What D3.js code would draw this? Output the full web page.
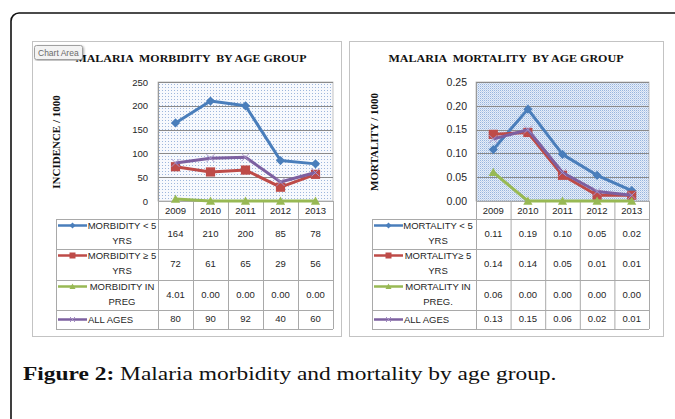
<!DOCTYPE html>
<html>
<head>
<meta charset="utf-8">
<script src="https://cdn.jsdelivr.net/npm/d3@7"></script>
<style>
body { margin: 0; background: #fff; }
svg { display: block; }
</style>
</head>
<body>
<svg id="chart" width="675" height="419"></svg>
<script>
// data
const years = ["2009", "2010", "2011", "2012", "2013"]

const morbNames = [["MORBIDITY < 5", "YRS"], ["MORBIDITY \u2265 5", "YRS"], ["MORBIDITY IN", "PREG"], ["ALL AGES"]]
const morbUnder5 = [164, 210, 200, 85, 78]
const morbOver5 = [72, 61, 65, 29, 56]
const morbPreg = [4.01, 0, 0, 0, 0]
const morbAll = [80, 90, 92, 40, 60]
const morbTicks = [0, 50, 100, 150, 200, 250]

const mortNames = [["MORTALITY < 5", "YRS"], ["MORTALITY\u2265 5", "YRS"], ["MORTALITY IN", "PREG."], ["ALL AGES"]]
const mortUnder5 = [0.108, 0.193, 0.098, 0.054, 0.022]
const mortOver5 = [0.14, 0.144, 0.054, 0.012, 0.012]
const mortPreg = [0.06, 0, 0, 0, 0]
const mortAll = [0.13, 0.15, 0.06, 0.02, 0.012]
const mortTicks = [0, 0.05, 0.10, 0.15, 0.20, 0.25]

const colors = ["#4a7ebb", "#be4b48", "#98b954", "#7d60a0"]
const markers = ["diamond", "square", "triangle", "x"]

const svg = d3.select("#chart")
const defs = svg.append("defs")

// plot area fills
let p1 = defs.append("pattern").attr("id", "dots").attr("width", 3).attr("height", 3)
    .attr("patternUnits", "userSpaceOnUse")
p1.append("rect").attr("width", 3).attr("height", 3).attr("fill", "#f7f9fd")
p1.append("rect").attr("width", 1).attr("height", 1).attr("fill", "#9db6dc")

let p2 = defs.append("pattern").attr("id", "hatch").attr("width", 2).attr("height", 2)
    .attr("patternUnits", "userSpaceOnUse")
p2.append("rect").attr("width", 2).attr("height", 2).attr("fill", "#e6edf8")
p2.append("rect").attr("width", 1).attr("height", 1).attr("fill", "#97b5de")
p2.append("rect").attr("x", 1).attr("y", 1).attr("width", 1).attr("height", 1).attr("fill", "#c4d5ee")

let shadow = defs.append("filter").attr("id", "tipShadow")
shadow.append("feDropShadow").attr("dx", 1).attr("dy", 1).attr("stdDeviation", 0.8)
    .attr("flood-color", "#000").attr("flood-opacity", 0.35)

function markerPath(kind, r) {
    if (kind == "diamond") return `M0,${-r}L${r},0L0,${r}L${-r},0Z`
    if (kind == "square") return `M${-r},${-r}H${r}V${r}H${-r}Z`
    if (kind == "triangle") return `M0,${-r}L${r},${r * 0.8}L${-r},${r * 0.8}Z`
    return `M${-r},${-r}L${r},${r}M${-r},${r}L${r},${-r}`
}

// outer frame
svg.append("rect")
    .attr("x", 11).attr("y", 13).attr("width", 720).attr("height", 460)
    .attr("rx", 8)
    .attr("fill", "none").attr("stroke", "#111").attr("stroke-width", 1.6)

function drawPanel(cfg) {
    let g = svg.append("g")
    g.append("rect")
        .attr("x", cfg.box[0] + 0.5).attr("y", cfg.box[1] + 0.5)
        .attr("width", cfg.box[2]).attr("height", cfg.box[3])
        .attr("fill", "#fff").attr("stroke", "#c3c3c3")

    let x = d3.scaleBand().domain(years).range([cfg.plot[0], cfg.plot[1]])
    let y = d3.scaleLinear().domain([0, d3.max(cfg.ticks)]).range([cfg.plot[3], cfg.plot[2]])
    let cx = d => x(d) + x.bandwidth() / 2

    g.append("rect")
        .attr("x", cfg.plot[0]).attr("y", cfg.plot[2])
        .attr("width", cfg.plot[1] - cfg.plot[0]).attr("height", cfg.plot[3] - cfg.plot[2])
        .attr("fill", `url(#${cfg.fill})`)
        .attr("stroke", "#b4b4b4").attr("stroke-width", 0.8)

    g.append("g").selectAll("line")
        .data(cfg.ticks.slice(1))
        .join("line")
            .attr("x1", cfg.plot[0]).attr("x2", cfg.plot[1])
            .attr("y1", d => Math.round(y(d)) + 0.5).attr("y2", d => Math.round(y(d)) + 0.5)
            .attr("stroke", "#8a8a8a").attr("stroke-width", 1)

    let axis = g.append("g")
        .attr("transform", `translate(${cfg.plot[0]},0)`)
        .call(d3.axisLeft(y).tickValues(cfg.ticks).tickSize(0).tickPadding(cfg.tickPad)
            .tickFormat(cfg.tickFormat))
    axis.select(".domain").attr("stroke", "#9a9a9a")
    axis.selectAll("text")
        .attr("font-family", "Liberation Sans, Arial, sans-serif")
        .attr("font-size", cfg.tickSize)
        .attr("fill", "#262626")

    // titles
    g.append("text")
        .attr("x", cfg.titleX).attr("y", 62)
        .attr("text-anchor", "middle")
        .attr("font-family", "Liberation Serif, Times New Roman, serif")
        .attr("font-weight", "bold").attr("font-size", 11)
        .attr("fill", "#111")
        .attr("textLength", cfg.titleW).attr("lengthAdjust", "spacingAndGlyphs")
        .style("white-space", "pre")
        .text(cfg.title)
    g.append("text")
        .attr("transform", `translate(${cfg.yTitleX},142) rotate(-90)`)
        .attr("text-anchor", "middle").attr("dy", "0.35em")
        .attr("font-family", "Liberation Serif, Times New Roman, serif")
        .attr("font-weight", "bold").attr("font-size", 11)
        .attr("fill", "#111")
        .text(cfg.yTitle)

    // data table
    let rows = [201, 219, 249, 280, 310, 329]
    let tcol = "#a9a9a9"
    let tg = g.append("g")
    tg.selectAll("line.h")
        .data(rows)
        .join("line")
            .attr("x1", (d, i) => i == 0 ? cfg.plot[0] : cfg.tableLeft)
            .attr("x2", cfg.plot[1])
            .attr("y1", d => d + 0.5).attr("y2", d => d + 0.5)
            .attr("stroke", tcol)
    let edges = years.map(d => x(d)).concat([cfg.plot[1]])
    tg.selectAll("line.v")
        .data(edges)
        .join("line")
            .attr("x1", d => d + 0.5).attr("x2", d => d + 0.5)
            .attr("y1", rows[0]).attr("y2", rows[5])
            .attr("stroke", tcol)
    tg.append("line")
        .attr("x1", cfg.tableLeft + 0.5).attr("x2", cfg.tableLeft + 0.5)
        .attr("y1", rows[1]).attr("y2", rows[5])
        .attr("stroke", tcol)

    let font = "Liberation Sans, Arial, sans-serif"
    let fs = 9.5
    tg.selectAll("text.year")
        .data(years)
        .join("text")
            .attr("x", cx).attr("y", 213.5)
            .attr("text-anchor", "middle")
            .attr("font-family", font).attr("font-size", fs).attr("fill", "#262626")
            .text(d => d)

    cfg.series.forEach((vals, i) => {
        let top = rows[i + 1], bot = rows[i + 2]
        let names = cfg.names[i]
        let keyY = names.length > 1 ? top + 6.5 : (top + bot) / 2
        tg.append("line")
            .attr("x1", cfg.tableLeft + 2).attr("x2", cfg.tableLeft + 31)
            .attr("y1", keyY).attr("y2", keyY)
            .attr("stroke", colors[i]).attr("stroke-width", 2.5)
        tg.append("path")
            .attr("transform", `translate(${cfg.tableLeft + 16.5},${keyY})`)
            .attr("d", markerPath(markers[i], markers[i] == "x" ? 2.5 : 3))
            .attr("fill", colors[i])
            .attr("stroke", markers[i] == "x" ? "#a58fc4" : "none")
        if (names.length > 1) {
            names.forEach((n, j) => {
                tg.append("text")
                    .attr("x", cfg.tableLeft + 66).attr("y", top + 6.5 + j * 15)
                    .attr("dy", "0.35em").attr("text-anchor", "middle")
                    .attr("font-family", font).attr("font-size", fs).attr("fill", "#262626")
                    .text(n)
            })
        } else {
            tg.append("text")
                .attr("x", cfg.tableLeft + 32).attr("y", keyY)
                .attr("dy", "0.35em")
                .attr("font-family", font).attr("font-size", fs).attr("fill", "#262626")
                .text(names[0])
        }
        tg.selectAll(null)
            .data(vals)
            .join("text")
                .attr("x", (d, k) => cx(years[k]))
                .attr("y", (top + bot) / 2 - 0.5)
                .attr("dy", "0.35em").attr("text-anchor", "middle")
                .attr("font-family", font).attr("font-size", fs).attr("fill", "#262626")
                .text(d => d3.format(cfg.formats[i])(d))
    })

    // series lines and markers
    let line = d3.line().x((d, k) => cx(years[k])).y(d => y(d))
    cfg.series.forEach((vals, i) => {
        let sg = g.append("g")
        sg.append("path")
            .attr("d", line(vals))
            .attr("fill", "none")
            .attr("stroke", colors[i]).attr("stroke-width", 3)
            .attr("stroke-linejoin", "round")
        sg.selectAll("path.m")
            .data(vals)
            .join("path")
                .attr("transform", (d, k) => `translate(${cx(years[k])},${y(d)})`)
                .attr("d", markerPath(markers[i], markers[i] == "x" ? 4 : 4.6))
                .attr("fill", colors[i])
                .attr("stroke", markers[i] == "x" ? "#a894c8" : "none")
                .attr("stroke-width", 1)
    })
}

drawPanel({
    box: [32, 41, 309, 295],
    plot: [158, 333, 82, 201],
    fill: "dots",
    ticks: morbTicks,
    tickFormat: d3.format("d"),
    tickPad: 10,
    tickSize: 9.5,
    title: "MALARIA  MORBIDITY  BY AGE GROUP",
    titleX: 191, titleW: 231,
    yTitle: "INCIDENCE / 1000",
    yTitleX: 56,
    tableLeft: 56,
    names: morbNames,
    series: [morbUnder5, morbOver5, morbPreg, morbAll],
    formats: ["d", "d", ".2f", "d"]
})

drawPanel({
    box: [349, 41, 314, 295],
    plot: [476, 649, 82, 201],
    fill: "hatch",
    ticks: mortTicks,
    tickFormat: d3.format(".2f"),
    tickPad: 9,
    tickSize: 10.5,
    title: "MALARIA  MORTALITY  BY AGE GROUP",
    titleX: 506, titleW: 235,
    yTitle: "MORTALITY / 1000",
    yTitleX: 374,
    tableLeft: 372,
    names: mortNames,
    series: [mortUnder5, mortOver5, mortPreg, mortAll],
    formats: [".2f", ".2f", ".2f", ".2f"]
})

// "Chart Area" tooltip left over in the screenshot
let tip = svg.append("g")
tip.append("rect")
    .attr("x", 34.5).attr("y", 45.5).attr("width", 48).attr("height", 14).attr("rx", 2)
    .attr("fill", "#f3f3f3").attr("stroke", "#a0a0a0")
    .attr("filter", "url(#tipShadow)")
tip.append("text")
    .attr("x", 38).attr("y", 55.5)
    .attr("font-family", "Liberation Sans, Arial, sans-serif").attr("font-size", 8.5)
    .attr("fill", "#6a6a6a")
    .text("Chart Area")

// caption
let cap = svg.append("text")
    .attr("x", 23).attr("y", 380)
    .attr("font-family", "Liberation Serif, Times New Roman, serif")
    .attr("font-size", 18).attr("fill", "#111")
cap.append("tspan").attr("font-weight", "bold").text("Figure 2:")
cap.append("tspan").text(" Malaria morbidity and mortality by age group.")
let w = cap.node().getComputedTextLength()
cap.attr("transform", `translate(23,0) scale(${534 / w},1) translate(-23,0)`)
</script>
</body>
</html>
